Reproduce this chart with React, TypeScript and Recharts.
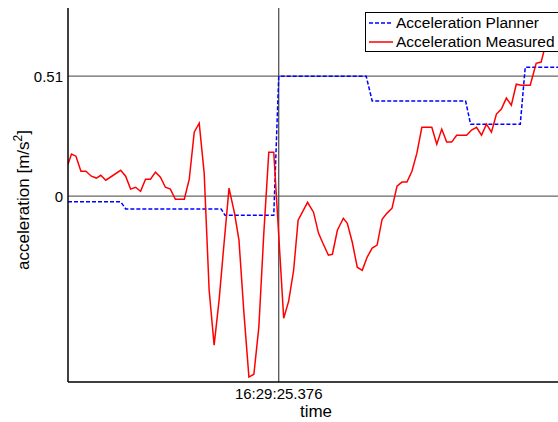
import { LineChart, Line, XAxis, YAxis, ReferenceLine, Label } from 'recharts';

// sample index (time axis) and values
const measuredT = [
  0, 0.7, 1.6, 2.6, 3.6, 4.7, 5.7, 6.6, 7.6, 10.6, 11.6, 12.6, 13.6, 14.6, 15.6, 16.6, 17.6, 18.6,
  19.6, 20.6, 21.6, 23.4, 24.4, 25.4, 26.4, 27.4, 28.4, 29.4, 30.4, 31.4, 32.4, 33.5, 34.4, 35.4,
  36.4, 37.4, 38.4, 39.4, 40.4, 41.4, 43.4, 44.4, 45.4, 46.3, 48.2, 49.4, 50.4, 51.2, 52.4, 53.2,
  54.2, 55.4, 56.2, 57.2, 58.2, 59.2, 60.2, 61.2, 62.2, 63.2, 64.2, 65.2, 66.2, 67.2, 68.2, 69.2,
  70.2, 71.2, 73.2, 74.2, 75.2, 76.2, 77.2, 78.2, 80.2, 81.2, 82.2, 83.2, 84.2, 85.2, 86.2, 87.2,
  88.2, 89.2, 90.2, 91.2, 93, 94.2, 95.2, 95.8, 96.8, 98,
];
const measuredV = [
  0.136, 0.179, 0.17, 0.106, 0.106, 0.085, 0.077, 0.089, 0.068, 0.11, 0.085, 0.03, 0.038, 0.021, 0.072, 0.072, 0.102, 0.081,
  0.038, 0.03, -0.013, -0.013, 0.072, 0.272, 0.31, 0.098, -0.4, -0.633, -0.442, -0.2, 0.034, -0.072, -0.187, -0.497,
  -0.769, -0.757, -0.557, -0.157, 0.187, 0.187, -0.519, -0.446, -0.315, -0.102, -0.026, -0.068, -0.157, -0.196, -0.251, -0.247,
  -0.145, -0.094, -0.115, -0.196, -0.302, -0.315, -0.259, -0.221, -0.208, -0.098, -0.072, -0.051, 0.043, 0.06, 0.06, 0.106,
  0.183, 0.293, 0.293, 0.221, 0.285, 0.23, 0.23, 0.259, 0.259, 0.281, 0.293, 0.259, 0.306, 0.272, 0.349, 0.37,
  0.417, 0.387, 0.476, 0.472, 0.472, 0.565, 0.57, 0.62, 0.68, 0.74,
];

const plannerT = [0, 10.6, 11.6, 30.8, 31.6, 41.4, 42.4, 60, 61.2, 80, 81, 91, 92, 100];
const plannerV = [-0.024, -0.024, -0.054, -0.054, -0.081, -0.081, 0.51, 0.51, 0.405, 0.405, 0.306, 0.306, 0.548, 0.548];

const yTicks = [0, 0.51];
const markerT = 42.4;
const markerLabel = '16:29:25.376';

const measured = measuredT.map((t, i) => ({ t, v: measuredV[i] }));
const planner = plannerT.map((t, i) => ({ t, v: plannerV[i] }));

const FONT = '"Liberation Sans", Arial, sans-serif';

function LegendBox() {
  return (
    <div
      style={{
        position: 'absolute',
        top: 12,
        left: 365,
        border: '1.5px solid #000',
        background: '#fff',
        padding: '0px 8px 0px 3px',
        fontFamily: FONT,
        fontSize: 15.5,
        lineHeight: '19px',
        color: '#000',
        whiteSpace: 'nowrap',
      }}
    >
      <div style={{ display: 'flex', alignItems: 'center' }}>
        <svg width={24} height={10}>
          <line x1={0} y1={5} x2={24} y2={5} stroke="#0000ff" strokeWidth={1.5} strokeDasharray="4 2" />
        </svg>
        <span style={{ marginLeft: 3 }}>Acceleration Planner</span>
      </div>
      <div style={{ display: 'flex', alignItems: 'center' }}>
        <svg width={24} height={10}>
          <line x1={0} y1={5} x2={24} y2={5} stroke="#ff0000" strokeWidth={1.5} />
        </svg>
        <span style={{ marginLeft: 3 }}>Acceleration Measured</span>
      </div>
    </div>
  );
}

export default function App() {
  return (
    <div
      style={{
        position: 'absolute',
        top: 0,
        left: 0,
        width: 558,
        height: 422,
        overflow: 'hidden',
        background: '#fff',
      }}
    >
      <LineChart width={600} height={422} margin={{ top: 8, right: 35, bottom: 0, left: 8 }}>
        <XAxis
          xAxisId="top"
          orientation="top"
          type="number"
          dataKey="t"
          domain={[0, 100]}
          height={0}
          tick={false}
          tickLine={false}
          axisLine={{ stroke: '#000', strokeWidth: 1.5 }}
        />
        <XAxis
          type="number"
          dataKey="t"
          domain={[0, 100]}
          ticks={[markerT]}
          tickFormatter={() => markerLabel}
          tickLine={false}
          tickSize={0}
          tickMargin={6}
          height={40}
          axisLine={{ stroke: '#000', strokeWidth: 1.5 }}
          tick={{ fill: '#000', fontSize: 15, fontFamily: FONT }}
          allowDataOverflow
        />
        <YAxis
          type="number"
          domain={[-0.79, 0.8]}
          ticks={yTicks}
          tickFormatter={(v: number) => (v === 0 ? '0' : String(v))}
          width={60}
          tickLine={false}
          tickSize={0}
          tickMargin={5}
          axisLine={{ stroke: '#000', strokeWidth: 1.5 }}
          tick={{ fill: '#000', fontSize: 15, fontFamily: FONT }}
          allowDataOverflow
        >
          <Label
            content={() => (
              <text
                x={29}
                y={200}
                transform="rotate(-90 29 200)"
                textAnchor="middle"
                fontFamily={FONT}
                fontSize={17}
                fill="#000"
              >
                acceleration [m/s<tspan dy={-7} fontSize={12}>2</tspan>
                <tspan dy={7}>]</tspan>
              </text>
            )}
          />
        </YAxis>
        <ReferenceLine y={0.51} stroke="#666" strokeWidth={1.2} />
        <ReferenceLine y={0} stroke="#666" strokeWidth={1.2} />
        <ReferenceLine x={markerT} stroke="#444" strokeWidth={1.2} />
        <Line
          data={planner}
          dataKey="v"
          type="linear"
          stroke="#0000ff"
          strokeWidth={1.5}
          strokeDasharray="4 2"
          dot={false}
          activeDot={false}
          isAnimationActive={false}
        />
        <Line
          data={measured}
          dataKey="v"
          type="linear"
          stroke="#ff0000"
          strokeWidth={1.5}
          dot={false}
          activeDot={false}
          isAnimationActive={false}
        />
      </LineChart>
      <div
        style={{
          position: 'absolute',
          top: 402,
          left: 286,
          width: 60,
          textAlign: 'center',
          fontFamily: FONT,
          fontSize: 17,
          lineHeight: '20px',
          color: '#000',
        }}
      >
        time
      </div>
      <LegendBox />
    </div>
  );
}
